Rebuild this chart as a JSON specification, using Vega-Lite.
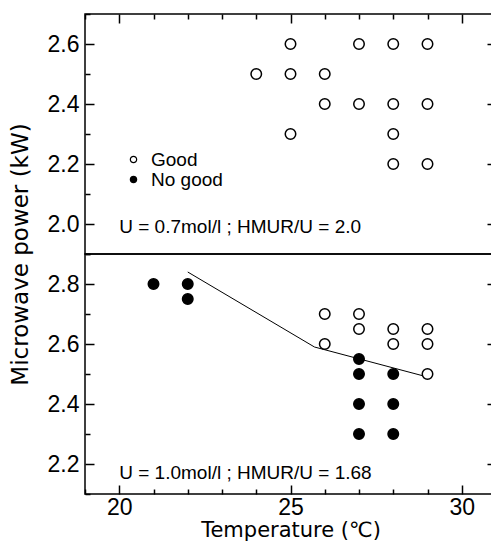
{
  "$schema": "https://vega.github.io/schema/vega-lite/v6.json",
  "background": "white",
  "padding": {"left": 8, "top": 12, "right": 0, "bottom": 0},
  "spacing": 0,
  "bounds": "flush",
  "config": {
    "view": {"stroke": "black", "strokeWidth": 1.5},
    "font": "Liberation Sans",
    "axis": {
      "grid": false,
      "domain": false,
      "tickColor": "black",
      "tickWidth": 1.5,
      "labelColor": "black",
      "labelFont": "Liberation Sans",
      "labelFontSize": 23,
      "titleColor": "black",
      "titleFont": "DejaVu Sans",
      "titleFontWeight": "normal"
    },
    "legend": {"rowPadding": 0}
  },
  "datasets": {
    "top": [
      {"temp": 25, "power": 2.6, "result": "Good"},
      {"temp": 27, "power": 2.6, "result": "Good"},
      {"temp": 28, "power": 2.6, "result": "Good"},
      {"temp": 29, "power": 2.6, "result": "Good"},
      {"temp": 24, "power": 2.5, "result": "Good"},
      {"temp": 25, "power": 2.5, "result": "Good"},
      {"temp": 26, "power": 2.5, "result": "Good"},
      {"temp": 26, "power": 2.4, "result": "Good"},
      {"temp": 27, "power": 2.4, "result": "Good"},
      {"temp": 28, "power": 2.4, "result": "Good"},
      {"temp": 29, "power": 2.4, "result": "Good"},
      {"temp": 25, "power": 2.3, "result": "Good"},
      {"temp": 28, "power": 2.3, "result": "Good"},
      {"temp": 28, "power": 2.2, "result": "Good"},
      {"temp": 29, "power": 2.2, "result": "Good"}
    ],
    "bottom": [
      {"temp": 21, "power": 2.8, "result": "No good"},
      {"temp": 22, "power": 2.8, "result": "No good"},
      {"temp": 22, "power": 2.75, "result": "No good"},
      {"temp": 26, "power": 2.7, "result": "Good"},
      {"temp": 27, "power": 2.7, "result": "Good"},
      {"temp": 27, "power": 2.65, "result": "Good"},
      {"temp": 28, "power": 2.65, "result": "Good"},
      {"temp": 29, "power": 2.65, "result": "Good"},
      {"temp": 26, "power": 2.6, "result": "Good"},
      {"temp": 28, "power": 2.6, "result": "Good"},
      {"temp": 29, "power": 2.6, "result": "Good"},
      {"temp": 27, "power": 2.55, "result": "No good"},
      {"temp": 27, "power": 2.5, "result": "No good"},
      {"temp": 28, "power": 2.5, "result": "No good"},
      {"temp": 29, "power": 2.5, "result": "Good"},
      {"temp": 27, "power": 2.4, "result": "No good"},
      {"temp": 28, "power": 2.4, "result": "No good"},
      {"temp": 27, "power": 2.3, "result": "No good"},
      {"temp": 28, "power": 2.3, "result": "No good"}
    ],
    "boundary": [
      {"temp": 22, "power": 2.84},
      {"temp": 25.7, "power": 2.59},
      {"temp": 29, "power": 2.49}
    ],
    "noteTop": [{"label": "U = 0.7mol/l ; HMUR/U = 2.0"}],
    "noteBottom": [{"label": "U = 1.0mol/l ; HMUR/U = 1.68"}]
  },
  "resolve": {
    "scale": {"x": "independent", "y": "independent", "fill": "independent"},
    "legend": {"fill": "independent"}
  },
  "vconcat": [
    {
      "width": 411,
      "height": 240,
      "resolve": {"axis": {"x": "independent", "y": "independent"}},
      "layer": [
        {
          "data": {"name": "top"},
          "mark": {"type": "point", "filled": true, "size": 110, "stroke": "black", "strokeWidth": 1.5, "opacity": 1},
          "encoding": {
            "x": {
              "field": "temp", "type": "quantitative",
              "scale": {"domain": [19, 31], "nice": false, "zero": false},
              "axis": {
                "orient": "top",
                "values": [19, 20, 21, 22, 23, 24, 25, 26, 27, 28, 29, 30, 31],
                "labels": false,
                "tickSize": {"condition": {"test": "datum.value % 5 === 0", "value": -9}, "value": -5},
                "title": null
              }
            },
            "y": {
              "field": "power", "type": "quantitative",
              "scale": {"domain": [1.9, 2.7], "nice": false, "zero": false},
              "axis": {
                "orient": "left",
                "values": [1.9, 2.0, 2.1, 2.2, 2.3, 2.4, 2.5, 2.6, 2.7],
                "labelExpr": "round(datum.value * 10) % 2 === 0 ? format(datum.value, '.1f') : ''",
                "tickSize": {"condition": {"test": "round(datum.value * 10) % 2 === 0", "value": -9}, "value": -5},
                "labelPadding": 15,
                "title": "Microwave power (kW)",
                "titleFontSize": 23,
                "titleX": -53,
                "titleY": 240
              }
            },
            "fill": {
              "field": "result", "type": "nominal",
              "scale": {"domain": ["Good", "No good"], "range": ["white", "black"]},
              "legend": {
                "orient": "none",
                "legendX": 39,
                "legendY": 136,
                "title": null,
                "padding": 0,
                "symbolType": "circle",
                "symbolSize": 40,
                "symbolStrokeColor": "black",
                "symbolStrokeWidth": 1.2,
                "labelFont": "Liberation Sans",
                "labelFontSize": 19,
                "labelColor": "black",
                "labelOffset": 8
              }
            }
          }
        },
        {
          "data": {"name": "noteTop"},
          "mark": {"type": "text", "align": "left", "baseline": "middle", "fontSize": 19, "font": "Liberation Sans", "color": "black"},
          "encoding": {
            "text": {"field": "label"},
            "x": {"datum": 20, "type": "quantitative", "scale": {"domain": [19, 31], "nice": false, "zero": false}, "axis": null},
            "y": {
              "datum": 1.99, "type": "quantitative",
              "scale": {"domain": [1.9, 2.7], "nice": false, "zero": false},
              "axis": {
                "orient": "right",
                "values": [1.9, 2.0, 2.1, 2.2, 2.3, 2.4, 2.5, 2.6, 2.7],
                "labels": false,
                "tickSize": {"condition": {"test": "round(datum.value * 10) % 2 === 0", "value": -9}, "value": -5},
                "title": null
              }
            }
          }
        }
      ]
    },
    {
      "width": 411,
      "height": 240,
      "resolve": {"axis": {"x": "independent", "y": "independent"}},
      "layer": [
        {
          "data": {"name": "boundary"},
          "mark": {"type": "line", "color": "black", "strokeWidth": 1},
          "encoding": {
            "x": {"field": "temp", "type": "quantitative", "scale": {"domain": [19, 31], "nice": false, "zero": false}, "axis": null},
            "y": {"field": "power", "type": "quantitative", "scale": {"domain": [2.1, 2.9], "nice": false, "zero": false}, "axis": null}
          }
        },
        {
          "data": {"name": "bottom"},
          "mark": {"type": "point", "filled": true, "size": 110, "stroke": "black", "strokeWidth": 1.5, "opacity": 1},
          "encoding": {
            "x": {
              "field": "temp", "type": "quantitative",
              "scale": {"domain": [19, 31], "nice": false, "zero": false},
              "axis": {
                "orient": "bottom",
                "values": [19, 20, 21, 22, 23, 24, 25, 26, 27, 28, 29, 30, 31],
                "labelExpr": "datum.value % 5 === 0 ? datum.label : ''",
                "tickSize": {"condition": {"test": "datum.value % 5 === 0", "value": -9}, "value": -5},
                "labelPadding": 11,
                "labelBaseline": "top",
                "title": "Temperature (℃)",
                "titleFontSize": 21,
                "titlePadding": 0
              }
            },
            "y": {
              "field": "power", "type": "quantitative",
              "scale": {"domain": [2.1, 2.9], "nice": false, "zero": false},
              "axis": {
                "orient": "left",
                "values": [2.1, 2.2, 2.3, 2.4, 2.5, 2.6, 2.7, 2.8, 2.9],
                "labelExpr": "round(datum.value * 10) % 2 === 0 ? format(datum.value, '.1f') : ''",
                "tickSize": {"condition": {"test": "round(datum.value * 10) % 2 === 0", "value": -9}, "value": -5},
                "labelPadding": 15,
                "title": null
              }
            },
            "fill": {
              "field": "result", "type": "nominal",
              "scale": {"domain": ["Good", "No good"], "range": ["white", "black"]},
              "legend": null
            }
          }
        },
        {
          "data": {"name": "noteBottom"},
          "mark": {"type": "text", "align": "left", "baseline": "middle", "fontSize": 19, "font": "Liberation Sans", "color": "black"},
          "encoding": {
            "text": {"field": "label"},
            "x": {"datum": 20, "type": "quantitative", "scale": {"domain": [19, 31], "nice": false, "zero": false}, "axis": null},
            "y": {
              "datum": 2.17, "type": "quantitative",
              "scale": {"domain": [2.1, 2.9], "nice": false, "zero": false},
              "axis": {
                "orient": "right",
                "values": [2.1, 2.2, 2.3, 2.4, 2.5, 2.6, 2.7, 2.8, 2.9],
                "labels": false,
                "tickSize": {"condition": {"test": "round(datum.value * 10) % 2 === 0", "value": -9}, "value": -5},
                "title": null
              }
            }
          }
        }
      ]
    }
  ]
}
